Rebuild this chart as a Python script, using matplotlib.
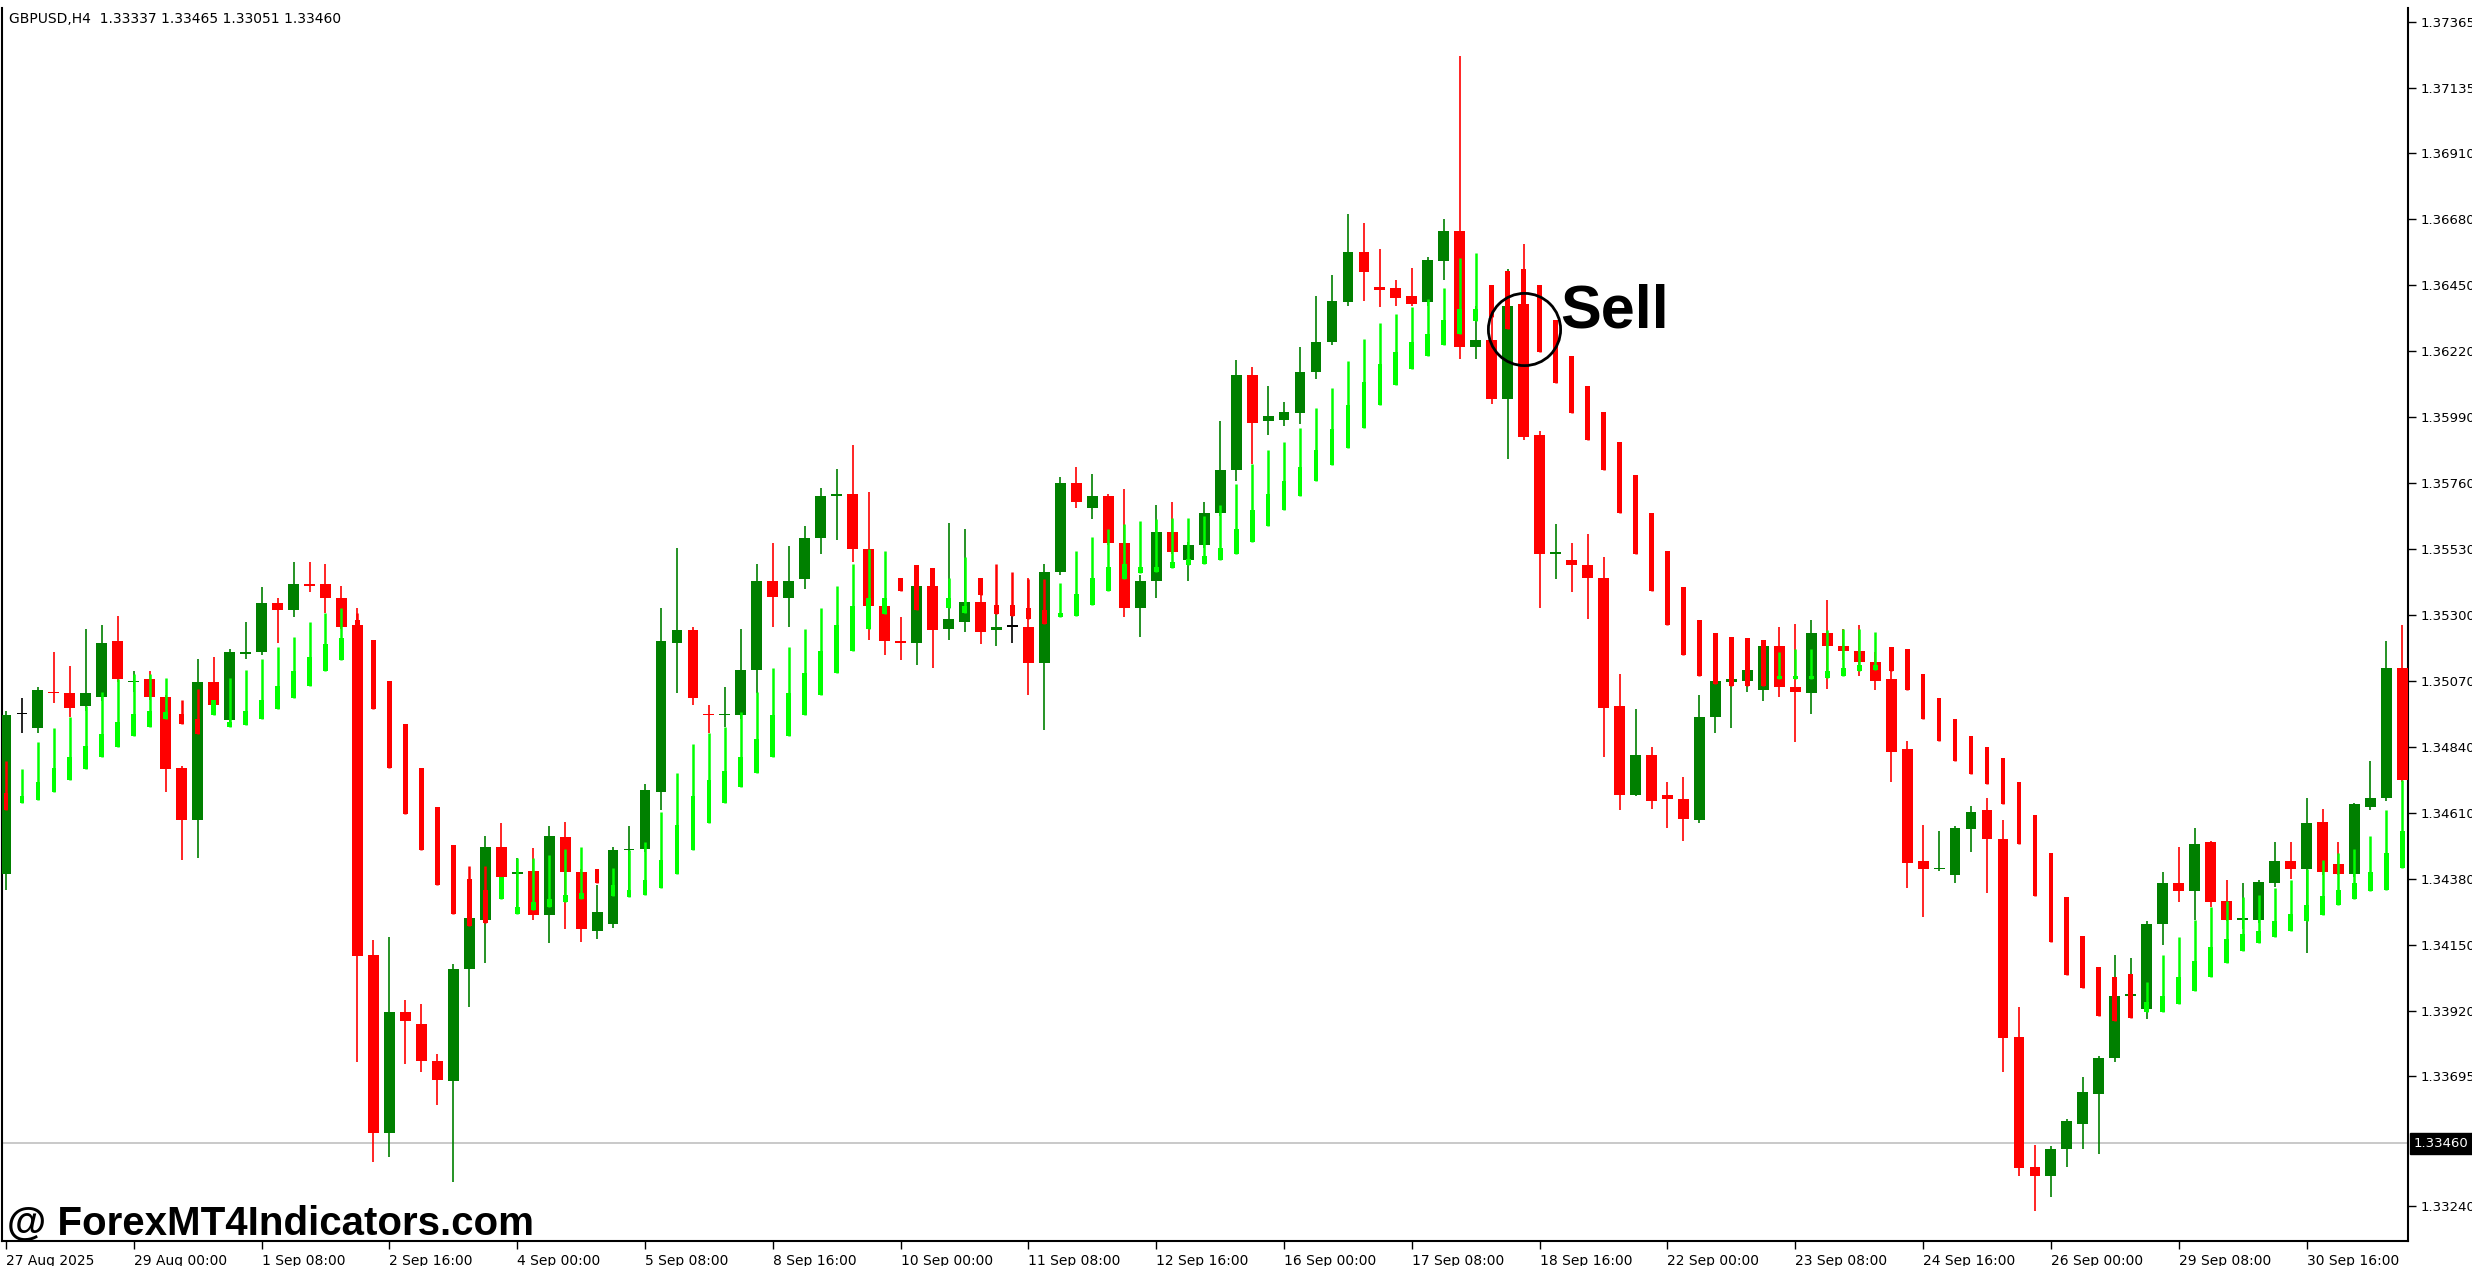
import numpy as np
import matplotlib
matplotlib.use("Agg")
import matplotlib.pyplot as plt

# GBPUSD H4 candles, prices in points (1e-5)
opens = [134398,134955,134906,135032,135027,134983,135016,135209,135066,135077,
         135016,134768,134586,135066,134933,135165,135170,135341,135319,135407,
         135407,135358,135264,134117,133494,133918,133874,133747,133676,134067,
         134238,134492,134398,134409,134255,134525,134404,134200,134222,134481,
         134486,134685,135203,135248,134955,134950,134950,135110,135418,135358,
         135424,135567,135716,135722,135529,135330,135209,135203,135402,135253,
         135275,135347,135248,135259,135259,135132,135451,135760,135672,135716,
         135551,135325,135418,135589,135490,135545,135656,135805,136135,135976,
         135981,136003,136146,136251,136389,136566,136444,136439,136411,136389,
         136532,136637,136235,136257,136053,136384,135926,135512,135490,135474,
         135430,134983,134674,134812,134674,134658,134586,134944,135066,135071,
         135038,135192,135049,135027,135236,135192,135176,135137,135077,134834,
         134442,134415,134393,134553,134619,134520,133830,133378,133345,133439,
         133527,133632,133758,133974,133929,134222,134365,134338,134509,134304,
         134238,134238,134365,134442,134415,134580,134431,134398,134630,134663,
         135115]
highs = [134966,135010,135049,135170,135121,135253,135264,135297,135104,135104,
         135021,134773,135148,135154,135181,135275,135396,135358,135485,135485,
         135479,135402,135325,134167,134178,133957,133946,133769,134084,134244,
         134531,134575,134453,134487,134564,134580,134415,134360,134492,134564,
         134713,135325,135534,135259,134988,135049,135253,135479,135551,135540,
         135611,135744,135810,135893,135727,135341,135292,135474,135463,135622,
         135600,135430,135308,135297,135430,135479,135782,135815,135793,135722,
         135738,135440,135683,135694,135556,135694,135976,136190,136163,136097,
         136042,136235,136411,136483,136698,136665,136577,136466,136510,136549,
         136681,137249,136378,136378,136505,136593,135942,135617,135551,135584,
         135501,135093,134972,134840,134718,134735,135021,135071,135225,135220,
         135214,135259,135270,135281,135352,135253,135264,135170,135115,134862,
         134569,134547,134564,134635,134663,134586,133935,133455,133450,133543,
         133692,133764,134117,134106,134233,134404,134492,134558,134514,134376,
         134365,134376,134509,134509,134663,134624,134509,134646,134790,135209,
         135264]
lows = [134343,134889,134889,134994,134944,134966,134999,135066,135032,135005,
        134685,134448,134453,134977,134922,135148,135159,135203,135292,135380,
        135308,135253,133742,133394,133411,133736,133709,133593,133323,133935,
        134089,134371,134260,134238,134156,134205,134161,134172,134211,134321,
        134475,134619,135027,134988,134889,134911,134939,135027,135259,135259,
        135391,135512,135562,135485,135214,135159,135143,135126,135115,135214,
        135242,135198,135192,135203,135021,134900,135440,135672,135633,135545,
        135292,135225,135358,135512,135418,135534,135645,135766,135827,135926,
        135959,135964,136124,136240,136378,136395,136373,136378,136378,136378,
        136466,136191,136191,136036,135843,135909,135325,135424,135380,135286,
        134806,134619,134669,134624,134558,134514,134575,134889,134906,135032,
        134999,135016,134856,134955,135043,135143,135088,135038,134718,134348,
        134249,134409,134365,134475,134332,133709,133345,133223,133273,133378,
        133439,133422,133742,133963,133891,134150,134299,134238,134282,134233,
        134205,134227,134354,134382,134122,134393,134393,134387,134619,134652,
        134718]
closes = [134950,134955,135038,135027,134977,135027,135203,135077,135071,135016,
          134762,134586,135066,134988,135170,135170,135341,135319,135407,135402,
          135358,135259,134111,133494,133918,133885,133747,133681,134067,134244,
          134492,134387,134404,134255,134531,134404,134205,134266,134481,134486,
          134691,135209,135248,135010,134950,134955,135110,135418,135363,135418,
          135567,135716,135722,135529,135330,135209,135203,135402,135248,135286,
          135347,135242,135259,135259,135132,135451,135760,135694,135716,135551,
          135325,135418,135589,135518,135545,135656,135805,136135,135970,135992,
          136009,136146,136251,136395,136566,136494,136433,136406,136384,136538,
          136637,136235,136257,136053,136378,135920,135512,135518,135474,135430,
          134977,134674,134812,134652,134658,134591,134944,135071,135077,135110,
          135192,135049,135032,135236,135192,135176,135137,135071,134823,134437,
          134415,134420,134558,134613,134520,133825,133372,133345,133439,133538,
          133637,133758,133974,133979,134222,134365,134338,134503,134299,134238,
          134244,134371,134442,134415,134575,134404,134398,134641,134663,135115,
          134724]

# trend indicator bars (wick top, body top, bottom) in points
ind_hi = [134790,134762,134856,134906,134944,134983,135032,135077,135093,135093,
          135082,135005,135043,135005,135082,135110,135148,135187,135225,135275,
          135308,135325,135308,135214,135071,134922,134768,134630,134497,134426,
          134426,134387,134453,134453,134464,134486,134492,134415,134420,134481,
          134508,134613,134751,134851,134889,134911,134961,135032,135115,135187,
          135253,135325,135402,135479,135529,135523,135430,135474,135463,135430,
          135501,135430,135479,135451,135424,135424,135413,135523,135573,135600,
          135617,135628,135633,135639,135639,135645,135683,135755,135827,135876,
          135904,135953,136020,136091,136185,136262,136317,136350,136373,136400,
          136439,136544,136560,136450,136499,136505,136450,136328,136202,136097,
          136009,135904,135788,135656,135523,135396,135281,135236,135225,135220,
          135214,135170,135181,135181,135248,135253,135253,135242,135187,135181,
          135093,135010,134939,134878,134840,134801,134718,134602,134470,134316,
          134183,134073,134040,134051,134023,134117,134178,134238,134282,134304,
          134316,134326,134349,134376,134415,134448,134470,134486,134531,134619,
          134724]
ind_body = [134679,134668,134718,134768,134806,134845,134884,134928,134955,134966,
            134961,134955,134939,135005,134928,134966,135005,135054,135104,135154,
            135198,135220,135281,135214,135071,134922,134768,134630,134497,134382,
            134343,134387,134282,134299,134310,134326,134332,134415,134360,134343,
            134376,134448,134569,134668,134724,134757,134806,134867,134950,135027,
            135099,135176,135264,135330,135358,135358,135430,135474,135463,135358,
            135330,135430,135336,135336,135325,135319,135308,135374,135430,135468,
            135479,135468,135468,135485,135496,135507,135534,135600,135667,135722,
            135766,135815,135876,135948,136031,136113,136174,136218,136251,136279,
            136328,136367,136367,136450,136499,136505,136450,136328,136202,136097,
            136009,135904,135788,135656,135523,135396,135281,135236,135225,135220,
            135214,135088,135088,135088,135104,135115,135126,135126,135187,135181,
            135093,135010,134939,134878,134840,134801,134718,134602,134470,134316,
            134183,134073,134040,134051,133951,133974,134040,134095,134145,134172,
            134189,134200,134233,134260,134288,134321,134343,134365,134404,134470,
            134547]
ind_lo = [134619,134646,134657,134685,134724,134762,134806,134839,134878,134911,
          134939,134922,134884,134950,134911,134917,134939,134972,135010,135054,
          135104,135143,135143,134972,134768,134608,134481,134360,134260,134216,
          134227,134310,134260,134271,134282,134299,134310,134365,134321,134316,
          134326,134349,134398,134481,134575,134646,134702,134751,134806,134878,
          134950,135021,135099,135176,135253,135303,135385,135319,135402,135325,
          135308,135369,135303,135297,135286,135270,135292,135297,135336,135385,
          135424,135446,135451,135463,135474,135479,135490,135512,135556,135611,
          135667,135716,135766,135821,135882,135953,136031,136102,136157,136202,
          136240,136279,136323,136340,136295,136362,136218,136108,136003,135909,
          135805,135656,135512,135385,135264,135159,135088,135060,135054,135054,
          135054,135077,135077,135077,135082,135088,135104,135110,135104,135038,
          134939,134862,134790,134746,134713,134641,134503,134321,134161,134045,
          134002,133902,133885,133896,133918,133918,133946,133990,134040,134089,
          134128,134156,134178,134200,134233,134255,134288,134310,134337,134343,
          134420]
ind_dir = ("d" "uuuuuuuuuu" "dd" "uuuuuuuuu" "ddddddddd" "uuuuuu" "d"
           "uuuuuuuuuuuuuuuuuu" "ddd" "uu" "ddddd"
           "uuuuuuuuuuuuuuuuuuuuuuuuuuu" "dddddddddddddddddd" "uuuuuuu"
           "dddddddddddddddd" "uuuuuuuuuuuuuuuuu")

time_labels = ["27 Aug 2025", "29 Aug 00:00", "1 Sep 08:00", "2 Sep 16:00", "4 Sep 00:00",
               "5 Sep 08:00", "8 Sep 16:00", "10 Sep 00:00", "11 Sep 08:00", "12 Sep 16:00",
               "16 Sep 00:00", "17 Sep 08:00", "18 Sep 16:00", "22 Sep 00:00", "23 Sep 08:00",
               "24 Sep 16:00", "26 Sep 00:00", "29 Sep 08:00", "30 Sep 16:00"]
price_ticks = [1.37365, 1.37135, 1.36910, 1.36680, 1.36450, 1.36220, 1.35990, 1.35760,
               1.35530, 1.35300, 1.35070, 1.34840, 1.34610, 1.34380, 1.34150, 1.33920,
               1.33695, 1.33240]
last_price = 1.33460
header = "GBPUSD,H4  1.33337 1.33465 1.33051 1.33460"

o = np.array(opens) / 1e5
h = np.array(highs) / 1e5
l = np.array(lows) / 1e5
c = np.array(closes) / 1e5
ihi = np.array(ind_hi) / 1e5
ibd = np.array(ind_body) / 1e5
ilo = np.array(ind_lo) / 1e5
x = np.arange(len(o))

GREEN, RED, LIME = "#008000", "#ff0000", "#00ff00"
col = np.where(c > o, GREEN, np.where(c < o, RED, "#000000"))
icol = [LIME if d == "u" else RED for d in ind_dir]

fig = plt.figure(figsize=(24.72, 12.66), dpi=100)
ax = fig.add_axes([0.0008, 1 - 1241 / 1266, 2406 / 2472, 1233 / 1266])

# candles
ax.vlines(x, l, h, colors=col, lw=1.2, zorder=2)
body_lo = np.minimum(o, c)
body_h = np.maximum(np.abs(c - o), 0.00005)
ax.bar(x, body_h, bottom=body_lo, width=0.68, color=col, lw=0, zorder=3)

# indicator overlay
ax.vlines(x, ilo, ihi, colors=icol, lw=1.8, zorder=4)
ax.bar(x, np.maximum(ibd - ilo, 0.00005), bottom=ilo,
       width=0.3, color=icol, lw=0, zorder=5)

# current price line
ax.axhline(last_price, color="#c0c0c0", lw=1.2, zorder=1)

ax.set_xlim(-0.25, 150.35)
ax.set_ylim(1.33119, 1.37415)

ax.yaxis.tick_right()
ax.set_yticks(price_ticks)
ax.set_yticklabels([f"{p:.5f}" for p in price_ticks])
ax.tick_params(axis="y", direction="out", length=6, width=1, labelsize=9.5, pad=3)
ax.text(1.0025, last_price, f"{last_price:.5f}", transform=ax.get_yaxis_transform(),
        ha="left", va="center", fontsize=9.5, color="white",
        bbox=dict(boxstyle="square,pad=0.3", fc="black", ec="black"), clip_on=False)

ax.set_xticks(np.arange(0, 151, 8)[:len(time_labels)])
ax.set_xticklabels(time_labels, ha="left")
ax.tick_params(axis="x", direction="out", length=6, width=1, labelsize=10, pad=3)

for s in ax.spines.values():
    s.set_color("black")
    s.set_linewidth(1.5)
ax.spines["top"].set_visible(False)

ax.text(0.003, 0.997, header, transform=ax.transAxes, ha="left", va="top", fontsize=10)

# sell marker
ax.plot([95], [1.36295], "o", ms=52, mfc="none", mec="black", mew=2, zorder=6)
ax.text(97.3, 1.36356, "Sell", ha="left", va="center", fontsize=44,
        fontweight="bold", family=["Liberation Sans", "DejaVu Sans"], zorder=6)

fig.text(0.003, 0.033, "@ ForexMT4Indicators.com", ha="left", va="center", fontsize=29,
         fontweight="bold", family=["Liberation Sans", "DejaVu Sans"])

fig.savefig("out.png", dpi=100, facecolor="white")
